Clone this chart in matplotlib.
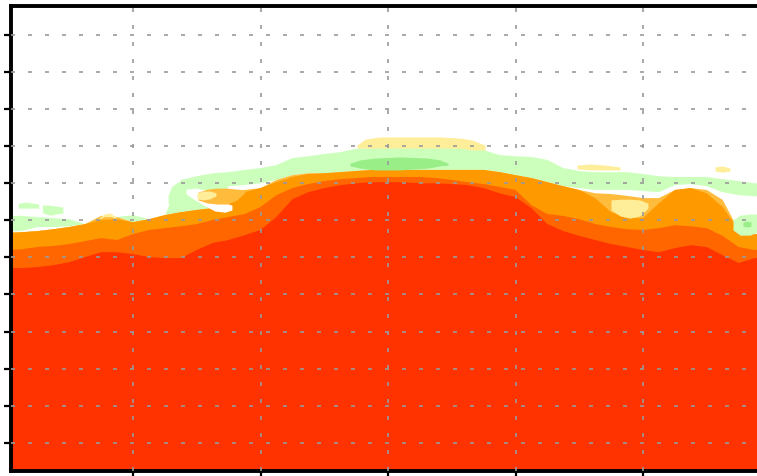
import matplotlib
matplotlib.use("Agg")
import matplotlib.pyplot as plt

# Column positions of the sampled section
x_cols = [0.000, 0.125, 0.250, 0.375, 0.500, 0.625, 0.750, 0.875,
          1.000, 1.125, 1.250, 1.375, 1.500, 1.625, 1.750, 1.875,
          2.000, 2.125, 2.250, 2.375, 2.500, 2.625, 2.750, 2.875,
          3.000, 3.125, 3.250, 3.375, 3.500, 3.625, 3.750, 3.875,
          4.000, 4.125, 4.250, 4.375, 4.500, 4.625, 4.750, 4.875,
          5.000, 5.125, 5.250, 5.375, 5.500, 5.625, 5.750, 5.875, 6.000]

# Upper edge of each colour class per column
top_red = [5.71, 5.71, 5.74, 5.79, 5.87, 6.01, 6.14, 6.14,
           6.09, 6.01, 5.98, 5.98, 6.20, 6.39, 6.47, 6.60,
           6.74, 7.09, 7.57, 7.76, 7.87, 7.95, 8.00, 8.03,
           8.03, 8.03, 8.00, 8.00, 7.98, 7.95, 7.87, 7.73,
           7.63, 7.33, 6.90, 6.71, 6.58, 6.47, 6.36, 6.28,
           6.20, 6.14, 6.25, 6.33, 6.28, 6.06, 5.85, 5.98, 5.98]
top_darkorange = [6.20, 6.22, 6.28, 6.31, 6.36, 6.44, 6.52, 6.47,
                  6.63, 6.74, 6.79, 6.84, 6.90, 7.01, 7.09, 7.17,
                  7.36, 7.68, 7.87, 7.98, 8.06, 8.11, 8.14, 8.17,
                  8.17, 8.17, 8.17, 8.14, 8.09, 8.03, 7.98, 7.90,
                  7.82, 7.41, 7.17, 7.12, 7.03, 6.90, 6.82, 6.76,
                  6.74, 6.79, 6.87, 6.84, 6.79, 6.58, 6.28, 6.20, 6.20]
top_orange = [6.66, 6.68, 6.71, 6.76, 6.82, 6.90, 7.01, 7.03,
              6.95, 7.03, 7.14, 7.22, 7.28, 7.33, 7.55, 7.76,
              7.87, 8.03, 8.17, 8.25, 8.27, 8.30, 8.33, 8.36,
              8.36, 8.36, 8.36, 8.36, 8.36, 8.36, 8.36, 8.30,
              8.22, 8.14, 8.03, 7.92, 7.82, 7.60, 7.22, 7.06,
              7.06, 7.46, 7.82, 7.87, 7.73, 7.36, 6.74, 6.63, 6.63]
top_lightorange = [6.66, 6.68, 6.71, 6.76, 6.82, 6.90, 7.12, 7.09,
                   6.95, 7.03, 7.14, 7.22, 7.28, 7.33, 7.82, 7.82,
                   7.87, 8.09, 8.22, 8.27, 8.27, 8.30, 8.33, 8.36,
                   8.36, 8.36, 8.36, 8.36, 8.36, 8.36, 8.36, 8.30,
                   8.22, 8.14, 8.03, 7.92, 7.82, 7.73, 7.71, 7.66,
                   7.60, 7.60, 7.82, 7.87, 7.82, 7.55, 6.74, 6.63, 6.63]
bottom_lightgreen = [6.71, 6.71, 6.82, 6.82, 6.84, 6.90, 7.12, 7.09,
                     6.95, 7.03, 7.14, 7.22, 7.28, 7.33, 7.92, 7.95,
                     8.00, 8.09, 8.22, 8.27, 8.27, 8.30, 8.33, 8.36,
                     8.36, 8.36, 8.36, 8.36, 8.36, 8.36, 8.36, 8.30,
                     8.22, 8.14, 8.03, 7.92, 7.87, 7.82, 7.82, 7.82,
                     7.79, 7.76, 7.95, 7.98, 7.92, 7.76, 7.68, 7.65, 7.65]
top_lightgreen = [7.12, 7.12, 7.09, 7.06, 7.03, 6.90, 7.12, 7.09,
                  7.14, 7.03, 7.14, 8.09, 8.19, 8.27, 8.30, 8.36,
                  8.41, 8.49, 8.68, 8.73, 8.79, 8.84, 8.93, 8.95,
                  8.95, 8.95, 8.95, 8.95, 8.95, 8.95, 8.90, 8.76,
                  8.73, 8.71, 8.63, 8.41, 8.33, 8.30, 8.30, 8.30,
                  8.25, 8.19, 8.17, 8.17, 8.17, 8.11, 8.06, 8.00, 7.98]

# Isolated cells: (x, lower, upper) for each, drawn in this order
hook_green_x = [1.275, 1.306, 1.353, 1.400]
hook_green_lo = [7.47, 7.33, 7.28, 7.25]
hook_green_hi = [7.68, 7.93, 8.03, 8.09]

hook_white_x = [1.416, 1.486, 1.565, 1.643, 1.722, 1.776]
hook_white_lo = [7.71, 7.55, 7.39, 7.25, 7.22, 7.28]
hook_white_hi = [7.84, 7.87, 7.82, 7.60, 7.47, 7.41]

hook_orange_x = [1.510, 1.580, 1.659, 1.737, 1.816, 1.878]
hook_orange_lo = [7.55, 7.47, 7.44, 7.44, 7.55, 7.76]
hook_orange_hi = [7.76, 7.84, 7.87, 7.87, 7.84, 7.82]

hook_yellow_x = [1.502, 1.549, 1.604, 1.651]
hook_yellow_lo = [7.58, 7.55, 7.58, 7.66]
hook_yellow_hi = [7.74, 7.79, 7.79, 7.74]

yellow_peak_x = [0.725, 0.773, 0.820, 0.867]
yellow_peak_lo = [7.02, 7.10, 7.10, 7.06]
yellow_peak_hi = [7.04, 7.17, 7.20, 7.09]

yellow_cap_x = [2.757, 2.820, 2.937, 3.094, 3.251, 3.408, 3.565, 3.659, 3.761]
yellow_cap_lo = [8.95, 8.95, 8.95, 8.95, 8.95, 8.95, 8.95, 8.90, 8.90]
yellow_cap_hi = [9.03, 9.19, 9.25, 9.25, 9.25, 9.25, 9.22, 9.17, 9.03]

green_core_x = [2.702, 2.780, 2.898, 3.094, 3.314, 3.408, 3.471]
green_core_lo = [8.47, 8.41, 8.36, 8.36, 8.41, 8.47, 8.49]
green_core_hi = [8.54, 8.63, 8.68, 8.71, 8.68, 8.63, 8.54]

yellow_dip_x = [4.749, 4.820, 4.898, 4.976, 5.039]
yellow_dip_lo = [7.28, 7.12, 7.06, 7.12, 7.33]
yellow_dip_hi = [7.55, 7.57, 7.57, 7.55, 7.46]

yellow_streak_x = [4.482, 4.584, 4.702, 4.820]
yellow_streak_lo = [8.39, 8.36, 8.36, 8.36]
yellow_streak_hi = [8.49, 8.52, 8.49, 8.44]

yellow_speck_x = [5.565, 5.620, 5.682]
yellow_speck_lo = [8.33, 8.30, 8.33]
yellow_speck_hi = [8.44, 8.47, 8.41]

green_east_x = [5.706, 5.761, 5.839, 5.894, 6.000]
green_east_lo = [6.74, 6.60, 6.60, 6.68, 6.68]
green_east_hi = [7.01, 7.14, 7.17, 7.17, 7.17]

green_east_core_x = [5.784, 5.816, 5.847]
green_east_core_lo = [6.84, 6.82, 6.84]
green_east_core_hi = [6.95, 6.98, 6.95]

green_west_a_x = [0.10, 0.16, 0.26]
green_west_a_lo = [7.33, 7.33, 7.33]
green_west_a_hi = [7.46, 7.49, 7.44]

green_west_b_x = [0.29, 0.35, 0.45]
green_west_b_lo = [7.20, 7.14, 7.20]
green_west_b_hi = [7.41, 7.41, 7.36]

colors = {
    "red": "#ff3300",
    "darkorange": "#ff6600",
    "orange": "#ff9900",
    "lightorange": "#ffbb3c",
    "yellow": "#ffee99",
    "lightgreen": "#ccffbb",
    "green": "#99ee88",
}

fig = plt.figure(figsize=(7.57, 4.76), dpi=100)
ax = fig.add_axes([11 / 757, 5 / 476, 759.5 / 757, 465 / 476])
ax.set_xlim(0.043, 6.0)
ax.set_ylim(0.237, 12.783)
base = 0.237

stack = [
    (top_lightgreen, colors["lightgreen"]),
    (bottom_lightgreen, "white"),
    (top_lightorange, colors["lightorange"]),
    (top_orange, colors["orange"]),
    (top_darkorange, colors["darkorange"]),
    (top_red, colors["red"]),
]
for z, (top, c) in enumerate(stack):
    ax.fill_between(x_cols, base, top, color=c, lw=0, zorder=1 + z * 0.01)

cells = [
    (hook_green_x, hook_green_lo, hook_green_hi, colors["lightgreen"]),
    (hook_white_x, hook_white_lo, hook_white_hi, "white"),
    (hook_orange_x, hook_orange_lo, hook_orange_hi, colors["lightorange"]),
    (hook_yellow_x, hook_yellow_lo, hook_yellow_hi, colors["yellow"]),
    (yellow_peak_x, yellow_peak_lo, yellow_peak_hi, colors["yellow"]),
    (yellow_cap_x, yellow_cap_lo, yellow_cap_hi, colors["yellow"]),
    (green_core_x, green_core_lo, green_core_hi, colors["green"]),
    (yellow_dip_x, yellow_dip_lo, yellow_dip_hi, colors["yellow"]),
    (yellow_streak_x, yellow_streak_lo, yellow_streak_hi, colors["yellow"]),
    (yellow_speck_x, yellow_speck_lo, yellow_speck_hi, colors["yellow"]),
    (green_east_x, green_east_lo, green_east_hi, colors["lightgreen"]),
    (green_east_core_x, green_east_core_lo, green_east_core_hi, colors["green"]),
    (green_west_a_x, green_west_a_lo, green_west_a_hi, colors["lightgreen"]),
    (green_west_b_x, green_west_b_lo, green_west_b_hi, colors["lightgreen"]),
]
for k, (cx, lo, hi, c) in enumerate(cells):
    ax.fill_between(cx, lo, hi, color=c, lw=0, zorder=1.2 + k * 0.001)

ax.set_xticks([1, 2, 3, 4, 5])
ax.set_yticks(range(1, 13))
ax.tick_params(direction="out", length=5, width=1.6, colors="black",
               labelleft=False, labelbottom=False)
ax.grid(True, color="#9a9a9a", linewidth=1.2, linestyle=(0, (2.4, 7.8)))
ax.set_axisbelow(False)
for side in ["left", "bottom", "top", "right"]:
    ax.spines[side].set_linewidth(2.8)
    ax.spines[side].set_color("black")

fig.savefig("out.png", dpi=100)
